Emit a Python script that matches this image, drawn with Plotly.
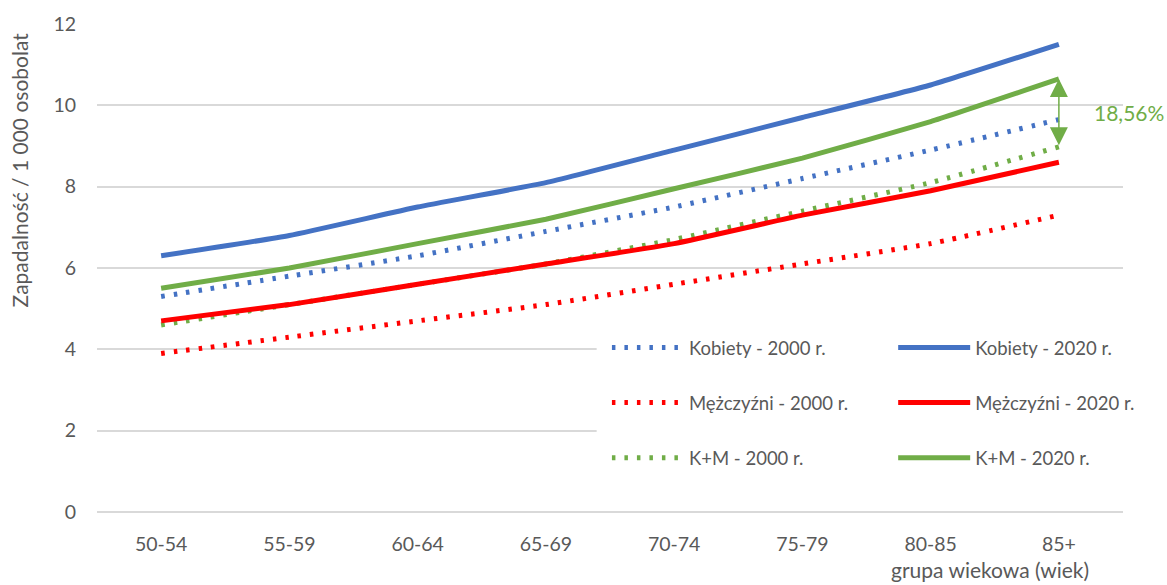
import plotly.graph_objects as go

# Age groups on the x axis
age_groups = ["50-54", "55-59", "60-64", "65-69", "70-74", "75-79", "80-85", "85+"]

# Incidence per 1 000 person-years
kobiety_2000 = [5.3, 5.8, 6.3, 6.9, 7.5, 8.2, 8.9, 9.65]
kobiety_2020 = [6.3, 6.8, 7.5, 8.1, 8.9, 9.7, 10.5, 11.5]
mezczyzni_2000 = [3.9, 4.3, 4.7, 5.1, 5.6, 6.1, 6.6, 7.3]
mezczyzni_2020 = [4.7, 5.1, 5.6, 6.1, 6.6, 7.3, 7.9, 8.6]
km_2000 = [4.6, 5.1, 5.6, 6.1, 6.7, 7.4, 8.1, 8.98]
km_2020 = [5.5, 6.0, 6.6, 7.2, 7.95, 8.7, 9.6, 10.65]

growth_label = "18,56%"

BLUE = "#4472C4"
RED = "#FF0000"
GREEN = "#70AD47"
GRID = "#D9D9D9"
TEXT = "#595959"
FONT = "Lato, 'Open Sans', sans-serif"

series = [
    ("Kobiety - 2000 r.", kobiety_2000, BLUE, "dot", "legend"),
    ("Mężczyźni - 2000 r.", mezczyzni_2000, RED, "dot", "legend"),
    ("K+M - 2000 r.", km_2000, GREEN, "dot", "legend"),
    ("Kobiety - 2020 r.", kobiety_2020, BLUE, "solid", "legend2"),
    ("Mężczyźni - 2020 r.", mezczyzni_2020, RED, "solid", "legend2"),
    ("K+M - 2020 r.", km_2020, GREEN, "solid", "legend2"),
]

fig = go.Figure()
for name, vals, color, dash, leg in series:
    fig.add_trace(go.Scatter(
        x=age_groups, y=vals, name=name, mode="lines",
        line=dict(color=color, width=5,
                  dash="3.5px,9px" if dash == "dot" else "solid",
                  shape="spline", smoothing=0.4),
        legend=leg, legendgroup=name, hoverinfo="skip",
    ))

# White panel under the legend block, masking the gridlines there
# (no data line crosses this region)
fig.add_shape(
    type="rect", xref="paper", yref="paper",
    x0=0.487, x1=1.0, y0=0.07, y1=0.365,
    fillcolor="white", line=dict(width=0), layer="above",
)

# Double-headed arrow between K+M 2000 and K+M 2020 for the oldest group
last = len(age_groups) - 1
fig.add_annotation(
    x=last, y=km_2020[last], ax=last, ay=km_2000[last],
    xref="x", yref="y", axref="x", ayref="y",
    showarrow=True, arrowhead=2, startarrowhead=2, arrowside="end+start",
    arrowsize=2.4, startarrowsize=2.4, arrowwidth=1.5, arrowcolor=GREEN,
    text="",
)
fig.add_annotation(
    x=0.97, xref="paper", y=(km_2020[last] + km_2000[last]) / 2, yref="y",
    text=growth_label, showarrow=False, xanchor="left", yanchor="middle",
    font=dict(family=FONT, size=21, color=GREEN),
)

# Axis titles
fig.add_annotation(
    x=-0.076, xref="paper", y=0.70, yref="paper",
    text="Zapadalność / 1 000 osobolat", showarrow=False, textangle=-90,
    xanchor="center", yanchor="middle",
    font=dict(family=FONT, size=21, color=TEXT),
)
fig.add_annotation(
    x=0.870, xref="paper", y=-0.1475, yref="paper",
    text="grupa wiekowa (wiek)", showarrow=False,
    xanchor="center", yanchor="bottom",
    font=dict(family=FONT, size=21, color=TEXT),
)

legend_common = dict(
    bgcolor="white", borderwidth=0, orientation="v",
    traceorder="grouped", tracegroupgap=28, itemwidth=72,
    font=dict(family=FONT, size=18.5, color=TEXT),
    xanchor="left", yanchor="top",
)

fig.update_layout(
    width=1167, height=585,
    margin=dict(l=97, r=44, t=21, b=73),
    paper_bgcolor="white", plot_bgcolor="white",
    font=dict(family=FONT, color=TEXT),
    showlegend=True,
    legend=dict(x=0.497, y=0.375, **legend_common),
    legend2=dict(x=0.776, y=0.375, **legend_common),
    xaxis=dict(
        type="category", showgrid=False, zeroline=False, showline=False,
        ticks="", ticklabelstandoff=18,
        tickfont=dict(family=FONT, size=19.5, color=TEXT),
        range=[-0.5, len(age_groups) - 0.5],
    ),
    yaxis=dict(
        range=[0, 12], dtick=2, showgrid=True, gridcolor=GRID, gridwidth=1.5,
        zeroline=True, zerolinecolor=GRID, zerolinewidth=1.5, showline=False,
        ticks="", ticklabelstandoff=20,
        tickfont=dict(family=FONT, size=19.5, color=TEXT),
    ),
)

fig.write_html("out.html")
